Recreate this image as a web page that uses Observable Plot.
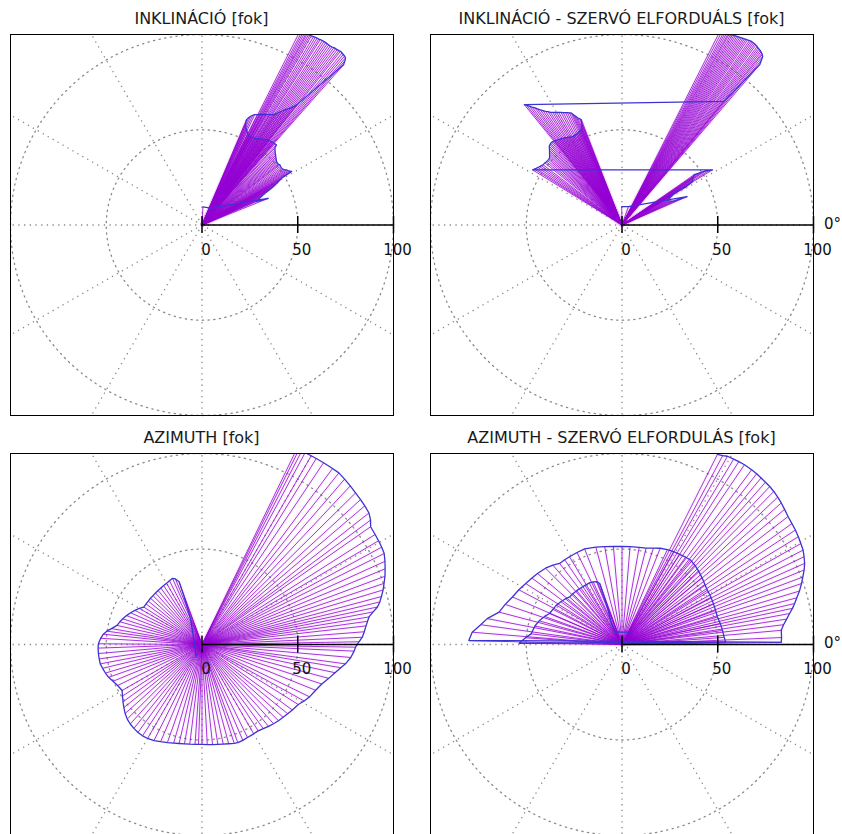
<!DOCTYPE html>
<html><head><meta charset="utf-8">
<script src="https://cdn.jsdelivr.net/npm/d3@7"></script>
<script src="https://cdn.jsdelivr.net/npm/@observablehq/plot@0.6"></script>
<style>
html{overflow:hidden;}
body{margin:0;background:#fff;width:842px;height:834px;overflow:hidden;position:relative;font-family:"DejaVu Sans",sans-serif;}
.panel{position:absolute;}
.title{position:absolute;width:383px;font-size:16px;line-height:16px;color:#1a1a1a;text-align:center;white-space:nowrap;}
</style></head><body>
<script>
// [angle in degrees, radius]
const inklinacio = [[87,9.5],[63,10],[22,37.3],[23.4,31],[24,31.8],[24.5,32.5],[25,33.2],[25.5,34],[26,35],[26.5,36],[27,37.2],[27.3,38.4],[27.7,39.8],[28,41],[28.3,42],[28.6,43],[29,44],[29.3,45],[29.7,45.8],[30,46.5],[30.3,47.4],[30.6,48.3],[31,54.6],[31.5,54],[32,53.5],[32.6,53.1],[33.2,52.8],[33.8,52.1],[34.5,51.5],[35.2,51.3],[36,51.2],[36.9,51.3],[37.8,51.5],[38.4,51.2],[39,51],[39.8,51.1],[40.5,51.2],[41.2,51.6],[42,52],[42.7,52.5],[43.5,53],[44.2,53.5],[45,54],[45.8,54.7],[46.7,55.5],[47.3,57.3],[48.2,57.1],[49,57],[49.8,56.9],[50.5,56.8],[51.4,56.6],[52.3,56.5],[53.2,56],[54,55.5],[55,55],[56,54.5],[57,54],[58,53.5],[59,53.2],[60,53],[61,52.8],[61.8,52.7],[62.7,53.1],[63.5,53.5],[64.3,54.3],[65.1,55.1],[65.8,56],[66.5,57],[67,58.5],[67.2,60],[66.6,61.3],[66,62.5],[65.3,63.3],[64.6,64.1],[63.5,64.8],[62.5,65.5],[61.2,66.2],[60,67],[58.6,67.9],[57.3,68.8],[56.6,69.9],[56,71],[55.2,72.7],[54.4,74.4],[53.7,75.7],[53,77],[52.4,78.6],[51.9,80.3],[48.7,112],[49.1,114],[49.5,115.4],[50,115.8],[50.5,116],[51,116.2],[51.6,116.4],[52,116.2],[52.5,116],[53,115.9],[53.5,115.8],[54,115.5],[54.5,115.3],[55,115.4],[55.5,115.5],[56,115.5],[56.5,115.5],[57,115.4],[57.6,115.3],[58,115.1],[58.5,115],[59,114.9],[59.5,114.8],[60.1,114.6],[60.5,114.5],[60.9,114.4],[61.3,114.1],[61.6,113.8],[62,113.4],[62.4,113],[62.8,112.5],[63.3,112]];

const inklinacioSzervo = [[91,9.6],[71,10.2],[23.7,37.1],[24.3,33],[25,30],[25.7,29],[26.5,28],[27.2,27.7],[28,27.5],[28.8,28],[29.5,28.5],[30.2,29.5],[30.8,30.5],[31.4,32.7],[31.9,34.9],[31.4,36.2],[30.9,37.6],[31.1,39],[31.3,40.5],[31.5,41.8],[31.8,43.2],[32.6,43.9],[33.5,44.5],[34.2,45.1],[35,45.8],[34.5,47.4],[34,49],[33.5,50.5],[33,52],[32.2,53.7],[31.5,55.4],[148.2,54.9],[147.3,54.3],[146.5,53.8],[145.5,53.3],[144.5,52.8],[143.5,52.4],[142.5,52],[141,51.8],[140,51.6],[139,51.5],[138,51.5],[137.2,51.6],[136.3,52.3],[135.5,53],[134.7,53.8],[134,54.5],[133.2,55.4],[132.5,56.2],[131.7,56.5],[131,56.8],[130.2,56.8],[129.5,56.8],[128.7,56.5],[128,56.3],[127.2,56],[126.5,55.8],[125.7,55.5],[125,55.3],[124.2,55],[123.5,54.8],[122.7,54.5],[122,54.2],[121.2,53.9],[120.5,53.6],[119.7,53.3],[118.9,53.1],[118.2,53.1],[117.5,53.2],[116.7,53.3],[116,53.5],[115.2,53.7],[114.5,53.9],[113.7,54.1],[113,54.3],[112.4,55.4],[111.8,56.5],[111.4,57.8],[111,59.2],[111.6,60],[112.3,60.7],[112.8,61.6],[113.3,62.5],[113.8,63.5],[114.3,64.5],[115,65],[115.8,65.5],[116.6,66],[117.5,66.5],[118.3,67.1],[119.2,67.7],[120,68.2],[120.8,68.8],[121.5,69.4],[122.3,70],[123,70.9],[123.8,71.8],[124.5,72.9],[125.2,74],[125.9,75.2],[126.5,76.5],[127.2,77.7],[127.8,79],[128.4,80.1],[128.9,81.2],[50.6,84],[49.5,110.7],[49.9,113],[50.3,115],[50.7,115.6],[51,116],[51.4,116.3],[51.8,116.6],[52.2,116.8],[52.6,117],[53,117.3],[53.5,117.5],[53.9,117.6],[54.3,117.7],[54.7,117.7],[55.1,117.7],[55.5,117.5],[56,117.2],[56.4,117],[56.8,116.8],[57.2,116.6],[57.6,116.4],[58,116.2],[58.4,116],[58.8,115.8],[59.2,115.6],[59.6,115.4],[60,115.2],[60.4,114.8],[60.8,114.5],[61.1,114.2],[61.5,114],[61.9,113.8],[62.3,113.6],[62.8,113.3],[63.3,113]];

const azimuth = [[245,7],[114.7,13.9],[110.5,26.6],[110,34.9],[112,37],[114,37.9],[117,37.4],[120,37],[123,36.8],[126,36.6],[129,36.4],[132,36.3],[135,36.2],[138,36.2],[141,36.1],[144,36.1],[147.2,36.2],[150,37.8],[153,39.3],[156,40.8],[159,42.2],[162,43.5],[164.5,44.5],[167.3,45.5],[170,48],[172,50.2],[174,51.8],[176.5,53],[179.6,54.1],[182,54.3],[185,54.3],[188,54.2],[190.8,54.1],[193.5,53.4],[196.5,52.6],[199.4,51.7],[202.5,50.3],[206,49],[210,48.2],[213,49.5],[216,51],[219,52.5],[222,54],[225,55.2],[228,56],[231,56.5],[234,56.9],[237,57],[240,56.8],[243.5,56.2],[247,55.3],[250.6,54.5],[254,53.7],[257,53.2],[260,52.8],[263,52.6],[266,52.4],[268,52.3],[270,52.3],[273,52.5],[276,52.7],[279,52.9],[282,53.3],[285,53.8],[288,54.4],[290,54.7],[293,54.5],[296,54.2],[300,54],[303,53.9],[306,54.5],[309,55.2],[312,55.8],[315,56.5],[318,57],[321,57.6],[324,58.3],[328,59.3],[331,61],[334,62.5],[338,64],[341.7,65.9],[345,68.5],[348,71],[350.5,73.5],[352.3,75.6],[355,78],[357.5,79.5],[359,80.2],[361,82],[362.6,83.8],[364.5,85],[366.5,86.2],[368,87.3],[369.4,88.4],[370.8,91],[372.1,93.7],[373.5,95.5],[375,97],[376.8,98.8],[378.6,100.3],[380.5,102],[382.5,103.5],[384.5,105],[386.6,106.4],[388.5,106.8],[390.5,107],[392.5,107.2],[395,107.5],[396.5,109.5],[398.3,111.1],[400.5,111.8],[402.5,112.3],[404.7,112.8],[407,113.5],[409.3,114.2],[411.5,114.8],[413.5,114.6],[416.3,114.4],[418.5,114.2],[420,114.1],[421.8,113.9],[422.8,112.8],[423.6,112],[424.2,111.5]];

const azimuthSzervo = [[57,7.7],[120,7.5],[116.5,12.2],[110.4,25.6],[110,34],[112,35.5],[114.7,36.1],[118,36.5],[122,36.5],[126,36.6],[130,36.8],[134,37],[137.7,37],[141,38],[145,39],[149,40],[153,40.5],[156.8,41.2],[160,43],[164,45],[168,46.5],[173.3,47.8],[176,50.5],[179.3,53.7],[1.3,54.2],[4,53.5],[8,53],[12,52.5],[16.1,51.9],[20,52],[24,52.3],[28,52.6],[32.5,52.9],[36,53.5],[40,54.5],[44,55.5],[47.5,56.3],[51,56.9],[54,56.5],[57.5,56],[61,55.6],[64.5,55],[68.4,54.2],[72,53],[76,52],[80,51.6],[85.3,51.4],[90,51.3],[95,51.5],[100,52],[105,52.8],[111.3,53.7],[116,53.6],[120.8,53.5],[124,53.5],[127.5,53.5],[131,55],[135,56.5],[139.9,57.7],[143.5,58.5],[147.6,59.5],[152,61],[156.5,62.4],[161,64.5],[165.2,66.4],[169.1,71.7],[172,74.5],[175.3,78.5],[178.5,80],[0.8,83.2],[2.5,83.4],[5.1,83.5],[7,85],[8.8,87],[10.5,89],[12,91],[13.4,92.7],[15,94.5],[16.8,96.8],[18.8,99],[20.5,100.8],[22.3,102.8],[24,104.4],[25.8,105.6],[27.6,106.7],[29.5,107.3],[31.5,108],[33.5,108.6],[35.5,109],[37.7,109.6],[39.8,110.5],[41.7,111.4],[43.5,112.1],[45.3,112.7],[47,113.1],[48.6,113.3],[50.2,113.5],[51.8,113.7],[53.5,113.8],[55.8,113.8],[57.5,113.5],[59,113.2],[60.8,112.9],[62,112],[63.4,111.3]];

const titles = ["INKLINÁCIÓ [fok]", "INKLINÁCIÓ - SZERVÓ ELFORDUÁLS [fok]", "AZIMUTH [fok]", "AZIMUTH - SZERVÓ ELFORDULÁS [fok]"];
const tickValues = [0, 50, 100];
const gridRadii = [50, 100];
const spokeAngles = [0, 30, 60, 90, 120, 150, 180, 210, 240, 270, 300, 330];
const zeroLabel = "0°";

const RAD = Math.PI / 180;
const px = d => d[1] * Math.cos(d[0] * RAD);
const py = d => d[1] * Math.sin(d[0] * RAD);
const dots = {stroke: "#8a8a8a", strokeWidth: 1.3, strokeDasharray: "1.3,4.4"};

function makePanel(series, showDeg, h) {
  const circles = gridRadii.flatMap(c => d3.range(0, 361, 2).map(a => [a, c, c]));
  const spokes = spokeAngles.map(a => {
    const c = Math.abs(Math.cos(a * RAD)), s = Math.abs(Math.sin(a * RAD));
    return [a, 100 / Math.max(c, s)];
  });
  return Plot.plot({
    width: 411, height: h,
    marginLeft: 0, marginRight: 28, marginTop: 0, marginBottom: 0,
    x: {domain: [-100, 100], axis: null},
    y: {domain: [-100, 100], axis: null},
    style: {overflow: "visible", background: "transparent", fontFamily: "DejaVu Sans"},
    marks: [
      Plot.line(circles, {x: px, y: py, z: d => d[2], ...dots}),
      Plot.link(spokes, {x1: () => 0, y1: () => 0, x2: px, y2: py, ...dots}),
      Plot.link(series, {x1: () => 0, y1: () => 0, x2: px, y2: py, stroke: "#e2a8ee", strokeWidth: 4, strokeOpacity: 0.09, clip: true}),
      Plot.link(series, {x1: () => 0, y1: () => 0, x2: px, y2: py, stroke: "#9400d3", strokeWidth: 1, strokeOpacity: 0.8, clip: true}),
      Plot.line(series, {x: px, y: py, stroke: "#3d33d2", strokeWidth: 1.3, clip: true}),
      Plot.ruleY([0], {x1: () => 0, x2: () => 100, stroke: "#000", strokeWidth: 1.5}),
      Plot.ruleX(tickValues, {y1: () => -4.5, y2: () => 4.5, stroke: "#000", strokeWidth: 1.5}),
      Plot.text(tickValues, {x: d => d, y: () => 0, text: d => String(d), dy: 25, dx: 4, fontSize: 15, fill: "#111"}),
      showDeg ? Plot.text([zeroLabel], {x: () => 100, y: () => 0, text: d => d, dx: 19, dy: -1, fontSize: 15, fill: "#111"}) : null,
      Plot.frame({stroke: "#000", strokeWidth: 1})
    ]
  });
}

const layout = [
  {series: inklinacio, left: 10, top: 34, h: 381, deg: false},
  {series: inklinacioSzervo, left: 430, top: 34, h: 381, deg: true},
  {series: azimuth, left: 10, top: 453, h: 382, deg: false},
  {series: azimuthSzervo, left: 430, top: 453, h: 382, deg: true}
];
layout.forEach((p, i) => {
  const t = document.createElement("div");
  t.className = "title";
  t.textContent = titles[i];
  t.style.left = p.left + "px";
  t.style.top = (p.top - 23) + "px";
  document.body.appendChild(t);
  const d = document.createElement("div");
  d.className = "panel";
  d.style.left = p.left + "px";
  d.style.top = p.top + "px";
  d.appendChild(makePanel(p.series, p.deg, p.h));
  document.body.appendChild(d);
});
</script>
</body></html>
